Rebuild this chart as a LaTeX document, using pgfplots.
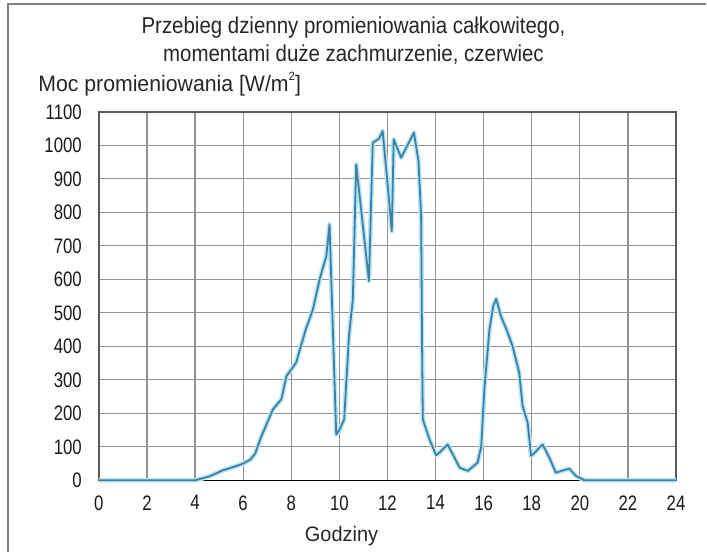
\documentclass[border=0pt]{standalone}
\usepackage{pgfplots}
\pgfplotsset{compat=1.18}
\usepackage{fontspec}
\setmainfont{Liberation Sans}[FakeStretch=0.8]
\newfontfamily\titlefont{Liberation Sans}[FakeStretch=0.89]
\newfontfamily\lblfont{Liberation Sans}[FakeStretch=0.95]
\definecolor{linecol}{RGB}{62,128,165}
\definecolor{glow}{RGB}{185,230,245}
\definecolor{gridcol}{RGB}{145,145,145}
\definecolor{framecol}{RGB}{90,90,90}
\begin{document}
\begin{tikzpicture}
\begin{axis}[
  at={(0,0)}, anchor=south west,
  width=289pt, height=184.5pt, scale only axis,
  xmin=0, xmax=24, ymin=0, ymax=1100,
  xtick={0,2,...,24}, ytick={0,100,...,1100},
  grid=major, grid style={gridcol, line width=0.65pt},
  axis line style={framecol, line width=0.75pt},
  major tick style={draw=none},
  /pgf/number format/assume math mode=true,
  /pgf/number format/1000 sep={},
  ticklabel style={font=\fontsize{10.5}{12}\selectfont, text=black!90},
  yticklabel style={xshift=-5pt},
  xticklabel style={yshift=-4pt},
  clip=false,
]
\draw[black, line width=0.75pt] (axis cs:0,0) -- (axis cs:24,0);
\pgfplotstableread{
x y
0 0
4 0
4.6 12
5.16 30
5.6 40
6.0 50
6.3 62
6.5 80
6.76 132
7.24 212
7.59 242
7.68 272
7.8 311
8.2 351
8.6 450
8.9 510
9.18 600
9.46 670
9.59 764
9.87 137
10.0 150
10.2 182
10.4 430
10.56 540
10.7 943
11.23 595
11.39 1008
11.65 1020
11.8 1043
12.0 889
12.18 744
12.26 1018
12.57 963
13.1 1038
13.29 953
13.4 789
13.44 400
13.47 182
13.75 122
14.02 75
14.2 85
14.5 107
14.7 80
15.0 38
15.34 28
15.75 53
15.9 102
16.03 272
16.24 450
16.4 520
16.52 542
16.72 490
17.0 441
17.2 401
17.48 321
17.62 222
17.83 172
17.97 73
18.06 78
18.45 107
18.73 68
19.0 23
19.56 35
19.84 13
20.2 0
24 0
}\data
\addplot[glow, line width=2.4pt, line join=round] table {\data};
\addplot[linecol, line width=0.9pt, line join=round] table {\data};
\end{axis}
\node[font=\titlefont\fontsize{11.5}{14}\selectfont, text=black!85, align=center] at (127.5pt,220pt)
  {Przebieg dzienny promieniowania całkowitego,\\momentami duże zachmurzenie, czerwiec};
\node[font=\lblfont\fontsize{11.2}{13}\selectfont, text=black!85, anchor=west, inner sep=0pt] at (-30.5pt,198.5pt)
  {Moc promieniowania [W/m\raisebox{0.9ex}{\fontsize{6}{7}\selectfont 2}]};
\node[font=\lblfont\fontsize{10.5}{12}\selectfont, text=black!85] at (121.5pt,-28pt) {Godziny};
\draw[gray, line width=1pt] (-45.5pt,-36pt) -- (-45.5pt,238.5pt) -- (304pt,238.5pt);
\path[use as bounding box] (-49.5pt,-36pt) rectangle (304pt,240.5pt);
\end{tikzpicture}
\end{document}
